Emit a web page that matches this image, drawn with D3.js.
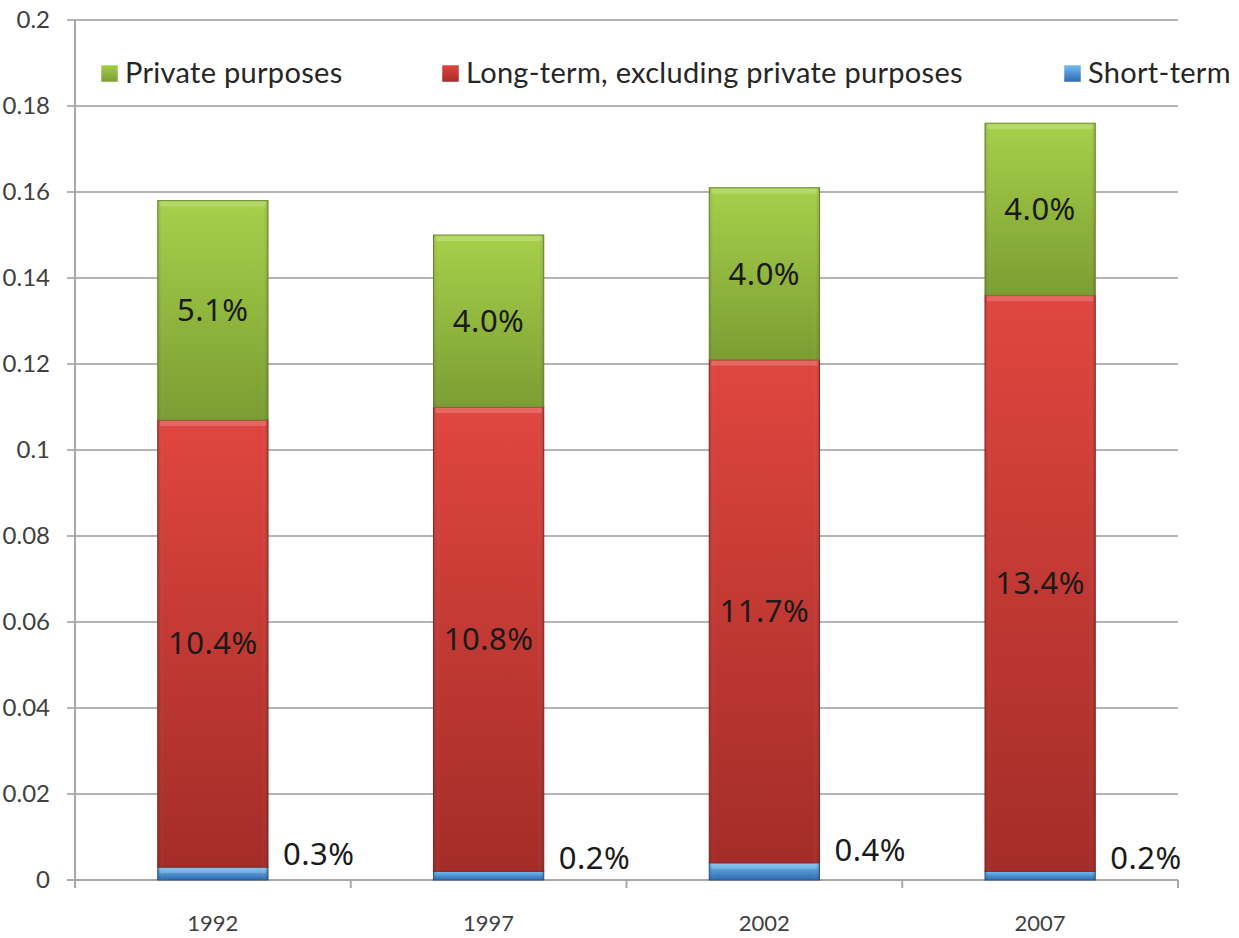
<!DOCTYPE html>
<html><head><meta charset="utf-8">
<script src="https://cdn.jsdelivr.net/npm/d3@7"></script>
<style>html,body{margin:0;padding:0;background:#fff;overflow:hidden}</style>
</head><body>
<svg id="c" width="1239" height="938"></svg>
<script>
const years = ["1992","1997","2002","2007"];
const shortTerm = [0.003, 0.002, 0.004, 0.002];
const longTerm = [0.104, 0.108, 0.117, 0.134];
const privatePurposes = [0.051, 0.040, 0.040, 0.040];
const shortLabels = ["0.3%","0.2%","0.4%","0.2%"];
const longLabels = ["10.4%","10.8%","11.7%","13.4%"];
const privateLabels = ["5.1%","4.0%","4.0%","4.0%"];
const yTicks = [0,0.02,0.04,0.06,0.08,0.1,0.12,0.14,0.16,0.18,0.2];
const yTickLabels = ["0","0.02","0.04","0.06","0.08","0.1","0.12","0.14","0.16","0.18","0.2"];
const seriesNames = ["Private purposes","Long-term, excluding private purposes","Short-term"];

(function(){
const svg = d3.select("#c");
const pL = 75, pR = 1178, pT = 20, pB = 880;
const x = d3.scaleBand().domain(years).range([pL, pR]).paddingInner(0.6).paddingOuter(0.3);
const xb = d3.scaleBand().domain(years).range([pL, pR]).padding(0);
const y = d3.scaleLinear().domain([0, 0.2]).range([pB, pT]);

const defs = svg.append("defs");
function grad(id, c1, c2) {
  const g = defs.append("linearGradient").attr("id", id).attr("x1",0).attr("y1",0).attr("x2",0).attr("y2",1);
  g.append("stop").attr("offset","0%").attr("stop-color",c1);
  g.append("stop").attr("offset","100%").attr("stop-color",c2);
}
grad("gG", "#a7d04a", "#7b9d33");
grad("gR", "#e0463f", "#a42c28");
grad("gB", "#72bdf0", "#2e69b0");
function hgrad(id) {
  const g = defs.append("linearGradient").attr("id", id).attr("x1",0).attr("y1",0).attr("x2",1).attr("y2",0);
  g.append("stop").attr("offset","0%").attr("stop-color","#000").attr("stop-opacity",0.12);
  g.append("stop").attr("offset","6%").attr("stop-color","#fff").attr("stop-opacity",0.0);
  g.append("stop").attr("offset","94%").attr("stop-color","#fff").attr("stop-opacity",0.0);
  g.append("stop").attr("offset","100%").attr("stop-color","#000").attr("stop-opacity",0.15);
}
hgrad("hShade");

svg.append("g").selectAll("line").data(yTicks.slice(1)).join("line")
  .attr("x1", pL - 8).attr("x2", pR).attr("y1", d => y(d)).attr("y2", d => y(d))
  .attr("stroke", "#b4b4b4").attr("stroke-width", 2);

svg.append("line").attr("x1", pL).attr("x2", pL).attr("y1", pT).attr("y2", pB + 8)
  .attr("stroke", "#a8a8a8").attr("stroke-width", 2);
svg.append("line").attr("x1", pL - 8).attr("x2", pR).attr("y1", pB).attr("y2", pB)
  .attr("stroke", "#a8a8a8").attr("stroke-width", 2);
svg.append("g").selectAll("line").data(years.concat(["end"])).join("line")
  .attr("x1", (d,i) => pL + i * xb.step()).attr("x2", (d,i) => pL + i * xb.step())
  .attr("y1", pB).attr("y2", pB + 8).attr("stroke", "#a8a8a8").attr("stroke-width", 2);

svg.append("g").selectAll("text").data(yTicks).join("text")
  .attr("x", 50).attr("y", d => y(d)).attr("dy", "0.35em").attr("text-anchor", "end")
  .attr("font-family", "Lato, 'Open Sans', sans-serif").attr("font-size", 24).attr("fill", "#404040")
  .text((d,i) => yTickLabels[i]);

svg.append("g").selectAll("text").data(years).join("text")
  .attr("x", d => x(d) + x.bandwidth()/2).attr("y", 923).attr("dy","0.35em").attr("text-anchor","middle")
  .attr("font-family", "Lato, 'Open Sans', sans-serif").attr("font-size", 22).attr("fill", "#404040")
  .text(d => d);

const rows = years.map((yr, i) => ({yr, s: shortTerm[i], l: longTerm[i], p: privatePurposes[i], i}));
const segs = [];
rows.forEach(r => {
  segs.push({yr: r.yr, y0: 0, y1: r.s, fill: "url(#gB)", stroke: "#2a5a95"});
  segs.push({yr: r.yr, y0: r.s, y1: r.s + r.l, fill: "url(#gR)", stroke: "#8f2623"});
  segs.push({yr: r.yr, y0: r.s + r.l, y1: r.s + r.l + r.p, fill: "url(#gG)", stroke: "#6d8c2c"});
});
const bars = svg.append("g");
bars.selectAll("rect.b").data(segs).join("rect").attr("class","b")
  .attr("x", d => x(d.yr)).attr("width", x.bandwidth())
  .attr("y", d => y(d.y1)).attr("height", d => y(d.y0) - y(d.y1))
  .attr("fill", d => d.fill).attr("stroke", d => d.stroke).attr("stroke-width", 1);
bars.selectAll("rect.h").data(segs).join("rect").attr("class","h")
  .attr("x", d => x(d.yr)).attr("width", x.bandwidth())
  .attr("y", d => y(d.y1)).attr("height", d => y(d.y0) - y(d.y1))
  .attr("fill", "url(#hShade)");
bars.selectAll("rect.t").data(segs.filter(d => y(d.y0) - y(d.y1) > 10)).join("rect").attr("class","t")
  .attr("x", d => x(d.yr) + 2).attr("width", x.bandwidth() - 4)
  .attr("y", d => y(d.y1) + 1).attr("height", 5)
  .attr("fill", "#fff").attr("opacity", 0.18);

const lf = "'Noto Sans', 'Open Sans', sans-serif";
const fs = 31, ls = 0.5;
svg.append("g").selectAll("text").data(rows).join("text")
  .attr("x", d => x(d.yr) + x.bandwidth()/2).attr("y", d => y(d.s + d.l + d.p/2)).attr("dy","0.35em")
  .attr("text-anchor","middle").attr("font-family", lf).attr("font-size", fs).attr("letter-spacing", ls).attr("fill", "#1a1a1a")
  .text(d => privateLabels[d.i]);
svg.append("g").selectAll("text").data(rows).join("text")
  .attr("x", d => x(d.yr) + x.bandwidth()/2).attr("y", d => y(d.s + d.l/2)).attr("dy","0.35em")
  .attr("text-anchor","middle").attr("font-family", lf).attr("font-size", fs).attr("letter-spacing", ls).attr("fill", "#1a1a1a")
  .text(d => longLabels[d.i]);
svg.append("g").selectAll("text").data(rows).join("text")
  .attr("x", d => x(d.yr) + x.bandwidth() + 15).attr("y", d => y(d.s) - 13).attr("dy","0.35em")
  .attr("text-anchor","start").attr("font-family", lf).attr("font-size", fs).attr("letter-spacing", ls).attr("fill", "#1a1a1a")
  .text(d => shortLabels[d.i]);

const legX = [101, 442, 1064];
const legFill = ["url(#gG)", "url(#gR)", "url(#gB)"];
const leg = svg.append("g").selectAll("g").data(seriesNames).join("g")
  .attr("transform", (d,i) => `translate(${legX[i]},73)`);
leg.append("rect").attr("x",0).attr("y",-8).attr("width",17).attr("height",17)
  .attr("fill", (d,i) => legFill[i]).attr("stroke", "#fff").attr("stroke-width", 0.5);
leg.append("text").attr("x", 24).attr("y", 0).attr("dy","0.35em")
  .attr("font-family", "Lato, 'Open Sans', sans-serif").attr("font-size", 29).attr("letter-spacing", 0.3).attr("fill", "#262626")
  .text(d => d);
})();
</script>
</body></html>
